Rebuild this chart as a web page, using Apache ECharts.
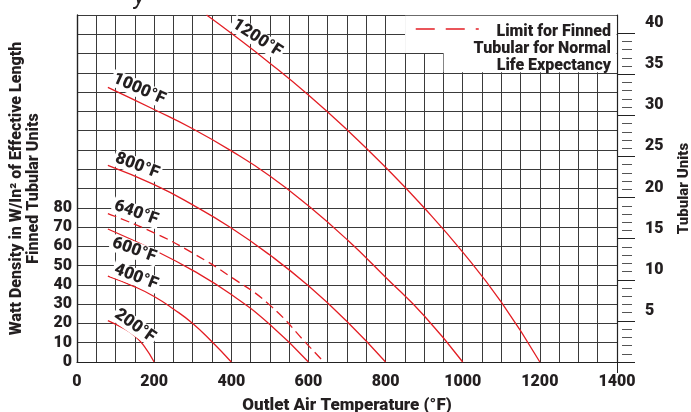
<!DOCTYPE html>
<html>
<head>
<meta charset="utf-8">
<title>Watt density vs outlet air temperature</title>
<script src="https://cdn.jsdelivr.net/npm/echarts@6/dist/echarts.min.js"></script>
<style>
html, body { margin: 0; padding: 0; background: #fff; }
#main { width: 691px; height: 412px; }
</style>
</head>
<body>
<div id="main"></div>
<script>
// [outlet air temp °F, watt density W/in²]
var curve200 = [[80, 21.5], [120, 17.5], [150, 13.5], [175, 8], [200, 0]]
var curve400 = [[80, 44.5], [150, 39], [200, 34], [250, 27.5], [300, 20], [350, 10.5], [400, 0]]
var curve600 = [[80, 69], [200, 58], [300, 47.5], [400, 35], [500, 19.5], [600, 0]]
var curve640 = [[80, 77], [200, 67], [300, 56.5], [400, 44], [500, 29.5], [600, 8.5], [640, 0]]
var curve800 = [[80, 102], [200, 92], [300, 81.5], [400, 69.5], [500, 55.5], [600, 39.5], [700, 21], [800, 0]]
var curve1000 = [[80, 142.5], [200, 131], [300, 121], [400, 109.5], [500, 96.5], [600, 81], [700, 63.5], [800, 44], [900, 24], [1000, 0]]
var curve1200 = [[336, 180], [400, 170.5], [500, 155], [600, 138.5], [700, 120.5], [800, 101], [900, 80], [1000, 57], [1100, 31], [1200, 0]]

var curveNames = ['200°F', '400°F', '600°F', '640°F', '800°F', '1000°F', '1200°F']
var curves = [curve200, curve400, curve600, curve640, curve800, curve1000, curve1200]
// where each curve's name sits, and its tilt
var labelAt = [[150, 18.7], [153, 44], [148, 58], [153, 77.3], [156, 101.7], [161, 141.6], [467, 168]]
var labelTilt = [-35, -21, -20, -20, -21, -24, -33]

var xLabels = [0, 200, 400, 600, 800, 1000, 1200, 1400]
var leftLabels = [0, 10, 20, 30, 40, 50, 60, 70, 80]
var rightTicks = [0, 5, 10, 15, 20, 25, 30, 35, 40]
var rightLabels = [5, 10, 15, 20, 25, 30, 35, 40]
var rightMinor = [1, 2, 3, 4, 6, 7, 8, 9, 11, 12, 13, 14, 16, 17, 18, 19, 21, 22, 23, 24,
  26, 27, 28, 29, 31, 32, 33, 34, 36, 37, 38, 39]

var limitLines = ['Limit for Finned', 'Tubular for Normal', 'Life Expectancy']
var limitName = limitLines.join('\n')

var red = '#e31e24'
var ink = '#231f20'
var font = 'Roboto, sans-serif'
var heavy = 900

var chart = echarts.init(document.getElementById('main'))

var series = curves.map(function (c, i) {
  var dashed = curveNames[i] === '640°F'
  var s = {
    name: dashed ? limitName : curveNames[i],
    type: 'line',
    data: c,
    smooth: 0.5,
    symbol: 'none',
    silent: true,
    lineStyle: { color: red, width: 1.3, type: dashed ? [9, 5] : 'solid' },
    itemStyle: { color: red },
    markPoint: {
      symbol: 'circle',
      symbolSize: 0,
      silent: true,
      data: [{ coord: labelAt[i] }],
      label: {
        show: true,
        position: 'inside',
        formatter: curveNames[i],
        rotate: labelTilt[i],
        color: ink,
        fontFamily: font,
        fontWeight: heavy,
        fontSize: 17,
        backgroundColor: '#fff',
        padding: [0, 2]
      }
    }
  }
  if (dashed) {
    // white box behind the legend text
    s.markArea = {
      silent: true,
      itemStyle: { color: '#fff', opacity: 1 },
      data: [
        [{ coord: [850.5, 179.6] }, { coord: [1398.8, 160.3] }],
        [{ coord: [950.5, 160.3] }, { coord: [1398.8, 150.3] }]
      ]
    }
  }
  return s
})

var option = {
  backgroundColor: '#fff',
  animation: false,
  title: {
    text: 'y',
    left: 129,
    top: -19,
    textStyle: { fontSize: 24, fontStyle: 'italic', fontWeight: 'normal', color: ink, fontFamily: font }
  },
  legend: {
    data: [limitName],
    left: 410,
    top: 17,
    itemWidth: 63,
    itemHeight: 14,
    selectedMode: false,
    formatter: function () { return '' },
    lineStyle: { type: [19, 11], width: 1.5, color: red },
    itemStyle: { opacity: 0 }
  },
  graphic: limitLines.map(function (t, i) {
    return {
      type: 'text',
      right: 80,
      top: 24 + i * 17,
      z: 100,
      silent: true,
      style: { text: t, fill: ink, font: heavy + ' 16px ' + font }
    }
  }),
  grid: { left: 77, right: 74, top: 15, bottom: 50, outerBoundsMode: 'none' },
  xAxis: [{
    type: 'value',
    min: 0,
    max: 1400,
    interval: 50,
    name: 'Outlet Air Temperature (°F)',
    nameLocation: 'middle',
    nameGap: 35,
    nameTextStyle: { color: ink, fontFamily: font, fontWeight: heavy, fontSize: 17 },
    axisLine: { onZero: false, lineStyle: { color: '#222', width: 1.2 } },
    axisTick: { show: false },
    axisLabel: {
      customValues: xLabels, margin: 12, color: ink, fontFamily: font, fontWeight: heavy, fontSize: 16,
      formatter: function (v) { return String(v) }
    },
    splitLine: { show: true, lineStyle: { color: '#3a3a3a', width: 1 } }
  }, {
    // only the right-hand end carries a tick below the axis
    type: 'value',
    min: 0,
    max: 1400,
    position: 'bottom',
    axisLine: { show: false, onZero: false },
    axisTick: { show: true, customValues: [1400], length: 11, lineStyle: { color: '#222' } },
    axisLabel: { show: false },
    splitLine: { show: false }
  }],
  yAxis: [{
    type: 'value',
    min: 0,
    max: 180,
    interval: 10,
    position: 'left',
    name: 'Watt Density in W/In² of Effective Length\nFinned Tubular Units',
    nameLocation: 'middle',
    nameGap: 35,
    nameTextStyle: { color: ink, fontFamily: font, fontWeight: heavy, fontSize: 16, lineHeight: 17 },
    axisLine: { show: true, onZero: false, lineStyle: { color: '#222', width: 1.4 } },
    axisTick: { show: false },
    axisLabel: { customValues: leftLabels, margin: 5, color: ink, fontFamily: font, fontWeight: heavy, fontSize: 16 },
    splitLine: { show: true, lineStyle: { color: '#3a3a3a', width: 1 } }
  }, {
    type: 'value',
    min: 0,
    max: 42.2,
    position: 'right',
    name: 'Tubular Units',
    nameLocation: 'middle',
    nameRotate: 90,
    nameGap: 60,
    nameTextStyle: { color: ink, fontFamily: font, fontWeight: heavy, fontSize: 15 },
    axisLine: { show: true, onZero: false, lineStyle: { color: '#222', width: 1.2 } },
    axisTick: { show: true, customValues: rightTicks, length: 18, lineStyle: { color: '#222' } },
    axisLabel: {
      customValues: rightLabels, margin: 28, color: ink, fontFamily: font, fontWeight: heavy, fontSize: 16,
      verticalAlign: 'bottom', padding: [0, 0, 2, 0]
    },
    splitLine: { show: false }
  }, {
    // short minor marks that stand a little off the right axis
    type: 'value',
    min: 0,
    max: 42.2,
    position: 'right',
    offset: 5,
    axisLine: { show: false, onZero: false },
    axisTick: { show: true, customValues: rightMinor, length: 10, lineStyle: { color: '#555' } },
    axisLabel: { show: false },
    splitLine: { show: false }
  }],
  series: series
}

chart.setOption(option)
</script>
</body>
</html>
